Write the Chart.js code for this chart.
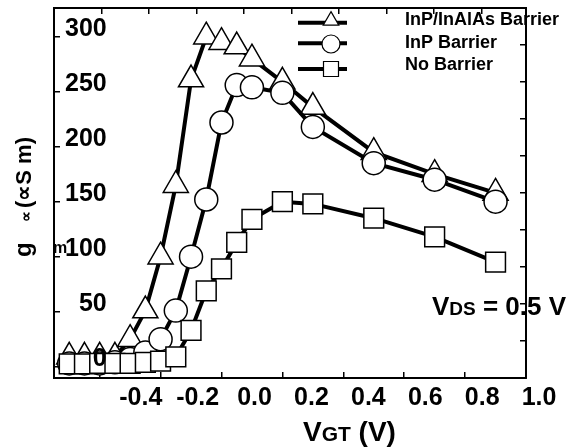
<!DOCTYPE html>
<html>
<head>
<meta charset="utf-8">
<script src="https://cdn.jsdelivr.net/npm/chart.js@4/dist/chart.umd.min.js"></script>
<style>
    html, body { margin: 0; padding: 0; background: #fff; }
    canvas { display: block; }
</style>
</head>
<body>
<canvas id="gmChart" width="567" height="448"></canvas>
<script>
// gm vs VGT for three barrier designs
const vgt = [-0.5, -0.45, -0.4, -0.35, -0.3, -0.25, -0.2, -0.15, -0.1, -0.05, 0.0, 0.05, 0.1, 0.2, 0.3, 0.5, 0.7, 0.9];
const gmInAlAs = [9, 9, 9, 9, 25, 51, 100, 165, 261, 300, 295, 291, 280, 259, 236, 195, 175, 158];
const gmInP = [3, 3, 3, 4, 7, 13, 25, 51, 100, 152, 222, 256, 254, 249, 218, 185, 170, 150];
const gmNone = [2.5, 2.5, 3, 3, 3, 4, 5, 9, 33, 69, 89, 113, 134, 150, 148, 135, 118, 95];
const seriesNames = ['InP/InAlAs Barrier', 'InP Barrier', 'No Barrier'];
const xTickValues = [-0.4, -0.2, 0.0, 0.2, 0.4, 0.6, 0.8, 1.0];
const yTickValues = [0, 25, 50, 75, 100, 125, 150, 175, 200, 225, 250, 275, 300];

const FONT = '"Liberation Sans", Arial, sans-serif';
Chart.defaults.font.family = FONT;
Chart.defaults.color = '#000';

const markerStyles = ['triangle', 'circle', 'rect'];
const markerRadii = [14.5, 11.5, 14];

function textRun(ctx, x, y, parts) {
    parts.forEach(([txt, size]) => {
        ctx.font = 'bold ' + size + 'px ' + FONT;
        ctx.fillText(txt, x, y);
        x += ctx.measureText(txt).width;
    });
}

// fixed box size, no extra label padding
function fixBox(w, h) {
    return axis => {
        if (w !== null) axis.width = w;
        if (h !== null) axis.height = h;
        axis.paddingTop = 0;
        axis.paddingBottom = 0;
        axis.paddingLeft = 0;
        axis.paddingRight = 0;
    };
}

// legend + free texts of the original figure
const figureText = {
    id: 'figureText',
    afterDraw(chart) {
        const ctx = chart.ctx;
        ctx.save();
        ctx.fillStyle = '#000';
        ctx.strokeStyle = '#000';
        ctx.textBaseline = 'alphabetic';

        // legend: thick line with the marker in the middle
        const lineY = [22.7, 43.3, 69];
        const markY = [20.6, 44, 69];
        const textY = [25, 48, 70];
        chart.data.datasets.forEach((ds, i) => {
            ctx.lineWidth = 4;
            ctx.beginPath();
            ctx.moveTo(298, lineY[i]);
            ctx.lineTo(347, lineY[i]);
            ctx.stroke();
            ctx.fillStyle = '#fff';
            ctx.lineWidth = 1.2;
            Chart.helpers.drawPoint(ctx, {
                pointStyle: ds.pointStyle,
                radius: [9, 9, 10.6][i],
                borderWidth: 1.2,
                rotation: 0
            }, 331, markY[i]);
            ctx.fillStyle = '#000';
            ctx.font = 'bold 18px ' + FONT;
            ctx.fillText(ds.label, 405, textY[i]);
        });

        // x axis title
        textRun(ctx, 303, 441, [['V', 28], ['GT', 21], [' (V)', 28]]);
        // bias annotation
        textRun(ctx, 432, 315, [['V', 26], ['DS', 19], [' = 0.5 V', 26]]);
        // stray subscript
        ctx.font = 'bold 16px ' + FONT;
        ctx.fillText('m', 53, 253);

        // y axis title, reading upwards
        ctx.translate(31, 257);
        ctx.rotate(-Math.PI / 2);
        ctx.font = 'bold 24px ' + FONT;
        ctx.fillText('g', 0, 0);
        ctx.font = 'bold 15px ' + FONT;
        ctx.fillText('\u221D', 35, 0);
        ctx.font = 'bold 22px ' + FONT;
        ctx.fillText('(\u221DS m)', 49, 0);
        ctx.restore();
    }
};

const inwardTicks = {
    drawOnChartArea: false,
    drawTicks: true,
    tickLength: -6,
    color: '#000',
    lineWidth: 1.5
};
const frame = { display: true, color: '#000', width: 2 };

new Chart(document.getElementById('gmChart'), {
    type: 'line',
    data: {
        datasets: [gmInAlAs, gmInP, gmNone].map((vals, i) => ({
            label: seriesNames[i],
            data: vgt.map((v, k) => ({ x: v, y: vals[k] })),
            borderColor: '#000',
            borderWidth: 4,
            tension: 0,
            fill: false,
            pointStyle: markerStyles[i],
            pointRadius: markerRadii[i],
            pointBackgroundColor: '#fff',
            pointBorderColor: '#000',
            pointBorderWidth: 1.5,
            order: 3 - i,
            xAxisID: 'x',
            yAxisID: 'y'
        }))
    },
    options: {
        responsive: false,
        animation: false,
        devicePixelRatio: 1,
        layout: { padding: 0, autoPadding: false },
        plugins: {
            legend: { display: false },
            tooltip: { enabled: false }
        },
        scales: {
            x: {
                type: 'linear',
                position: 'bottom',
                weight: 0,
                min: -0.55,
                max: 1.0,
                afterBuildTicks: axis => { axis.ticks = xTickValues.map(v => ({ value: v })); },
                afterFit: fixBox(null, 0),
                ticks: { display: false },
                grid: inwardTicks,
                border: frame
            },
            xl: {
                type: 'linear',
                position: 'bottom',
                weight: 1,
                min: -0.705,
                max: 0.954,
                afterBuildTicks: axis => { axis.ticks = xTickValues.map(v => ({ value: v })); },
                afterFit: fixBox(null, 70),
                grid: { display: false },
                border: { display: false },
                ticks: {
                    autoSkip: false,
                    maxRotation: 0,
                    padding: 0,
                    font: { size: 25, weight: 'bold', lineHeight: 1 },
                    callback: v => v.toFixed(1)
                }
            },
            x2: {
                type: 'linear',
                position: 'top',
                min: 0,
                max: 9.94,
                afterFit: fixBox(null, 8),
                ticks: { display: false, stepSize: 1 },
                grid: inwardTicks,
                border: frame
            },
            y: {
                type: 'linear',
                position: 'left',
                min: -10.27,
                max: 326.1,
                afterBuildTicks: axis => { axis.ticks = yTickValues.map(v => ({ value: v })); },
                afterFit: fixBox(54, null),
                grid: Object.assign({}, inwardTicks, { z: 1 }),
                border: Object.assign({}, frame, { z: 1 }),
                ticks: {
                    z: 1,
                    mirror: true,
                    crossAlign: 'far',
                    padding: 11,
                    labelOffset: -8,
                    font: { size: 25, weight: 'bold' },
                    callback: v => (v % 50 === 0 ? String(v) : '')
                }
            },
            y2: {
                type: 'linear',
                position: 'right',
                min: 0,
                max: 10,
                afterFit: fixBox(41, null),
                ticks: { display: false, stepSize: 1 },
                grid: inwardTicks,
                border: frame
            }
        }
    },
    plugins: [figureText]
});
</script>
</body>
</html>
